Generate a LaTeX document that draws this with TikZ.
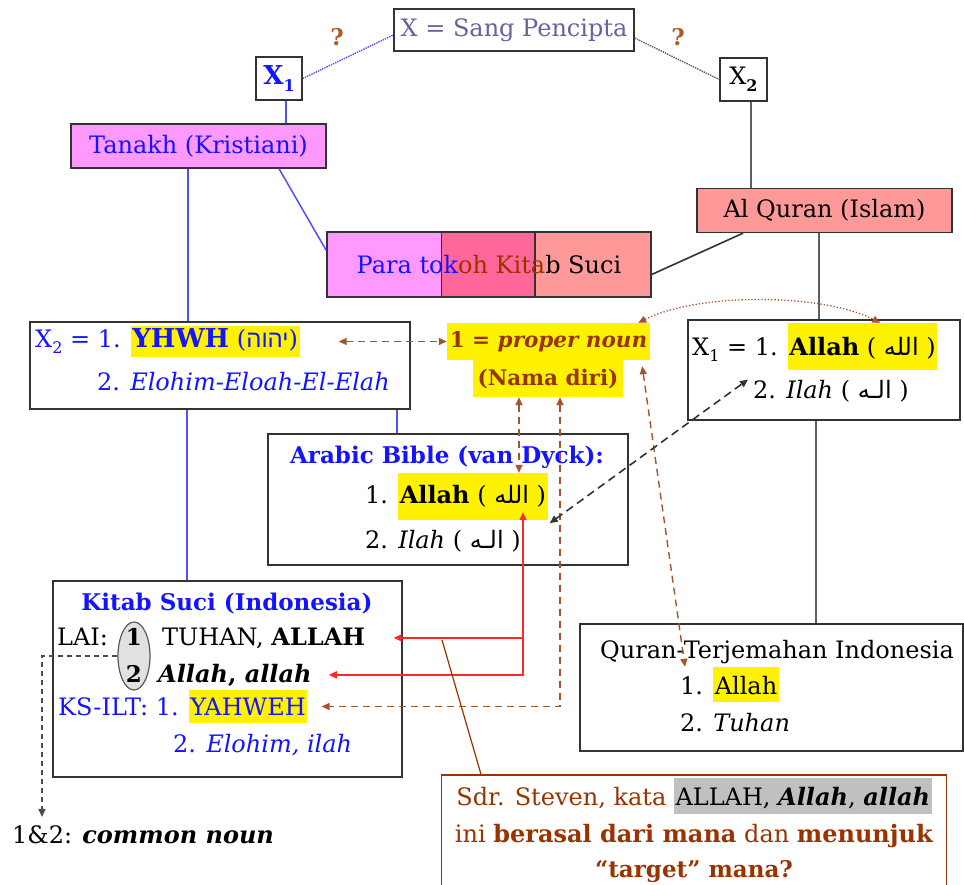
\documentclass[tikz,border=0pt]{standalone}
\usepackage{fontspec}
\setmainfont{DejaVu Serif}
\newfontfamily\hebfont[Script=Hebrew]{Liberation Sans}
\newfontfamily\arabicfont[Script=Arabic]{DejaVu Sans}
\TeXXeTstate=1
\usetikzlibrary{arrows.meta,calc,shapes.geometric}
\definecolor{bluetxt}{RGB}{20,20,255}
\definecolor{blueln}{RGB}{80,80,255}
\definecolor{sangtxt}{RGB}{100,100,160}
\definecolor{qbrown}{RGB}{176,90,40}
\definecolor{brn}{RGB}{153,51,0}
\definecolor{dbrown}{RGB}{165,85,45}
\definecolor{pinkA}{RGB}{255,153,255}
\definecolor{pinkB}{RGB}{255,102,153}
\definecolor{salmon}{RGB}{255,153,153}
\definecolor{hlgray}{RGB}{192,192,192}
\definecolor{ellgray}{RGB}{225,225,225}
\definecolor{redln}{RGB}{255,40,40}
\definecolor{grayln}{RGB}{95,95,95}
\newcommand\hlbox[4]{{\setlength\fboxsep{0pt}\colorbox{#1}{\rule[-#3]{0pt}{\dimexpr#2+#3\relax}\kern1.5pt#4\kern1.5pt}}}
\newcommand\subx[1]{\raisebox{-0.28em}{\fontsize{16}{16}\selectfont #1}}
\newcommand\arab[1]{{\arabicfont\beginR #1\endR}}
\newcommand\heb[1]{{\hebfont\beginR #1\endR}}
\begin{document}
\begin{tikzpicture}[x=1pt,y=-1pt,
  every node/.style={font=\fontsize{24}{29}\selectfont, inner sep=0pt},
  bfont/.style={font=\fontsize{23}{29}\selectfont\bfseries},
  pnfont/.style={font=\fontsize{21.5}{29}\selectfont\bfseries},
  box/.style={draw=black!80, line width=1.4pt},
  ln/.style={anchor=base west},
  brarrow/.style={draw=dbrown, line width=1.4pt, dash pattern=on 7pt off 5pt,
     {Triangle[length=8pt,width=7pt]}-{Triangle[length=8pt,width=7pt]}},
  redarrow/.style={draw=redln, line width=1.5pt},
  blueline/.style={draw=blueln, line width=1.5pt},
  grayline/.style={draw=grayln, line width=1.6pt},
  tip/.style={-{Triangle[length=8pt,width=7pt]}}]
\clip (0,0) rectangle (964,884);
\fill[white] (0,0) rectangle (964,884);
% top
\node[box, minimum width=240pt, minimum height=42pt, text=sangtxt] (sang) at (514,30) {X = Sang Pencipta};
\node[bfont, text=qbrown] (qL) at (337,37) {?};
\node[bfont, text=qbrown] (qR) at (678,37) {?};
\node[box, minimum width=46pt, minimum height=43pt, text=bluetxt] (xa) at (279,78.5) {\fontsize{26}{29}\selectfont\textbf{X\subx{1}}};
\node[box, minimum width=47pt, minimum height=43pt] (xb) at (743.5,79.5) {X\subx{\bfseries 2}};
\node[box, fill=pinkA, text=bluetxt, minimum width=255pt, minimum height=44pt] (tanakh) at (198.5,146) {Tanakh (Kristiani)};
\node[box, fill=salmon, minimum width=255pt, minimum height=44pt] (alquran) at (824.5,210.5) {Al Quran (Islam)};
% para tokoh
\fill[pinkA] (327,232) rectangle (441.5,297);
\fill[pinkB] (441.5,232) rectangle (535,297);
\fill[salmon] (535,232) rectangle (651,297);
\draw[line width=1.4pt, black!80] (441.5,232) -- (441.5,297) (535,232) -- (535,297);
\node[box, minimum width=324pt, minimum height=65pt] (para) at (489,264.5) {\textcolor{bluetxt}{Para tok}\textcolor{brn}{oh Kita}b Suci};
% X2 box (left)
\node[box, minimum width=380pt, minimum height=87pt] (xtwo) at (220,365.5) {};
\node[ln, text=bluetxt] (xtwoA) at (35,347) {X\subx{2} = 1. \hlbox{yellow}{21pt}{10pt}{{\fontsize{26}{29}\selectfont\textbf{YHWH}} (\heb{יהוה})}};
\node[ln, text=bluetxt] (xtwoB) at (97,390) {2. \textit{Elohim-Eloah-El-Elah}};
% X1 box (right)
\node[box, minimum width=272pt, minimum height=100pt] (xone) at (824,370) {};
\node[ln] (xoneA) at (692,355) {X\subx{1} = 1. \hlbox{yellow}{32pt}{15pt}{\textbf{Allah} ( \arab{الله} )}};
\node[ln] (xoneB) at (753,398) {2. \textit{Ilah} ( \arab{الـه} )};
% proper noun
\node[fill=yellow, text=brn, pnfont, minimum width=203pt, minimum height=37pt] (pnA) at (548.5,341.5) {1 = \textit{proper noun}};
\node[fill=yellow, text=brn, pnfont, minimum width=150pt, minimum height=37pt] (pnB) at (548,378.5) {(Nama diri)};
% Arabic bible
\node[box, minimum width=360pt, minimum height=131pt] (arabic) at (448,499.5) {};
\node[bfont, text=bluetxt, anchor=base] (arabicT) at (447,463) {Arabic Bible (van Dyck):};
\node[ln] (arabicA) at (365,503) {1. \hlbox{yellow}{30pt}{17pt}{\textbf{Allah} ( \arab{الله} )}};
\node[ln] (arabicB) at (365,548) {2. \textit{Ilah} ( \arab{الـه} )};
% Kitab Suci
\node[box, minimum width=349pt, minimum height=196pt] (kitab) at (227.5,679) {};
\node[bfont, text=bluetxt, anchor=base] (kitabT) at (227,610) {Kitab Suci (Indonesia)};
\node[ellipse, draw=black!65, line width=1.2pt, fill=ellgray, minimum width=32pt, minimum height=68pt] (ell) at (134,656) {};
\node[ln] (laiA) at (57,645) {LAI:};
\node[anchor=base, bfont] (one) at (134,645) {1};
\node[ln] (laiB) at (162,645) {TUHAN, \textbf{ALLAH}};
\node[anchor=base, bfont] (two) at (134,682) {2};
\node[ln] (laiC) at (158,682) {\bfseries\itshape Allah\upshape, \itshape allah};
\node[ln, text=bluetxt] (ksA) at (58,715) {KS-ILT: 1. \hlbox{yellow}{25pt}{8pt}{YAHWEH}};
\node[ln, text=bluetxt] (ksB) at (173,752) {2. \textit{Elohim, ilah}};
\node[ln] (common) at (12,843) {1\&2: \textbf{\textit{common noun}}};
% Quran terjemahan
\node[box, minimum width=383pt, minimum height=127pt] (quran) at (771.5,687.5) {};
\node[ln] (quranT) at (600,658) {Quran-Terjemahan Indonesia};
\node[ln] (quranA) at (680,694) {1. \hlbox{yellow}{27pt}{8pt}{Allah}};
\node[ln] (quranB) at (680,731) {2. \textit{Tuhan}};
% question box
\node[draw=brn, line width=1.3pt, minimum width=505pt, minimum height=125pt] (q) at (694,837.5) {};
\node[anchor=base, text=brn] (qA) at (694,805) {Sdr. Steven, kata \hlbox{hlgray}{27pt}{9pt}{\color{black}ALLAH, \textbf{\textit{Allah}}, \textbf{\textit{allah}}}};
\node[anchor=base, text=brn] (qB) at (694,842) {ini \textbf{berasal dari mana} dan \textbf{menunjuk}};
\node[anchor=base, text=brn, bfont] (qC) at (694,877) {“target” mana?};
% connectors top
\draw[blueln, line width=1.4pt, densely dotted] (xa.east) -- ([yshift=-5pt]sang.west);
\draw[grayln, line width=1.4pt, densely dotted] ([yshift=-8pt]sang.east) -- (xb.west);
\draw[blueline] (286,0 |- xa.south) -- (286,0 |- tanakh.north);
\draw[grayline] (751,0 |- xb.south) -- (751,0 |- alquran.north);
\draw[blueline] (279,0 |- tanakh.south) -- ([yshift=14pt]para.west);
\draw[grayline, draw=black!80] ([yshift=-10pt]para.east) -- (743,0 |- alquran.south);
\draw[blueline] (188,0 |- tanakh.south) -- (188,0 |- xtwo.north);
\draw[blueline] (187,0 |- xtwo.south) -- (187,0 |- kitab.north);
\draw[blueline] (397,0 |- xtwo.south) -- (397,0 |- arabic.north);
\draw[grayline] (819,0 |- alquran.south) -- (819,0 |- xone.north);
\draw[grayline] (816,0 |- xone.south) -- (816,0 |- quran.north);
% brown dashed arrows
\coordinate (c0) at ([xshift=-72pt]xtwo.east);
\draw[brarrow] (c0 |- pnA.west) -- (pnA.west);
\draw[draw=dbrown, line width=1.3pt, dotted, {Triangle[length=8pt,width=7pt]}-{Triangle[length=8pt,width=7pt]}]
  ([xshift=-12pt]pnA.north east) .. controls +(60,-30) and +(-60,-30) .. ([xshift=-57pt]xoneA.north east);
\coordinate (c1) at ([xshift=-29pt]pnB.south);
\draw[brarrow] (c1) -- (c1 |- arabicA.north);
\coordinate (c2) at ([xshift=12pt]pnB.south);
\draw[brarrow] (c2) |- ([xshift=14pt]ksA.east);
\draw[brarrow] ([xshift=-8pt,yshift=-6pt]pnA.south east) -- ([xshift=5pt]quranA.north west);
% black dashed
\draw[draw=black!80, line width=1.6pt, dash pattern=on 8pt off 5pt, {Triangle[length=8pt,width=7pt]}-{Triangle[length=8pt,width=7pt]}]
  ([xshift=2pt,yshift=-3pt]arabicA.south east) -- ([xshift=-5pt]xoneB.north west);
% red arrows
\coordinate (rtop) at ($(arabicA.south west)+(158,-8)$);
\draw[redarrow, {Triangle[length=8pt,width=7pt]}-{Triangle[length=8pt,width=7pt]}] (rtop) |- ([xshift=17pt]laiC.east);
\coordinate (k1) at ([xshift=-9pt]kitab.east);
\draw[redarrow, tip] (rtop |- laiB.east) -- (k1 |- laiB.east);
% callout line
\coordinate (callout) at (442,640);
\draw[draw=brn, line width=1.2pt] (callout) -- (481,0 |- q.north);
% common noun
\draw[draw=black!70, line width=1.3pt, dash pattern=on 5pt off 4pt, tip] (ell.west) -| ([xshift=30pt,yshift=8pt]common.north west);
\end{tikzpicture}
\end{document}
